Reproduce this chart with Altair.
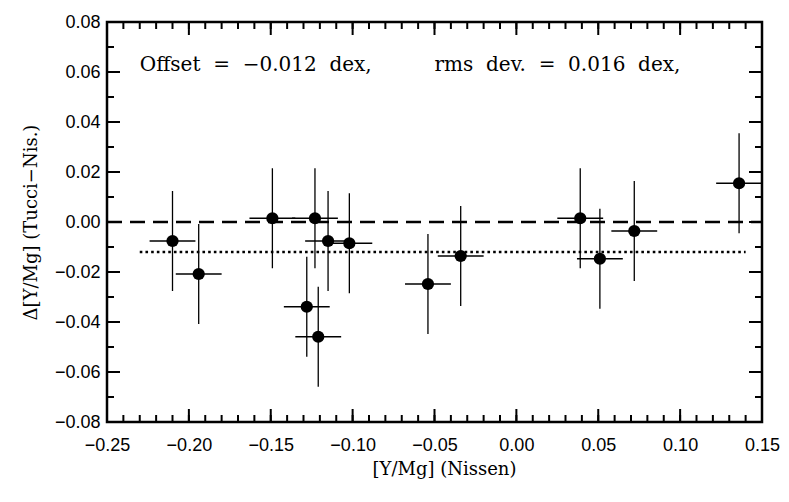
import altair as alt
import pandas as pd

# ---- data ----
x_nissen = [-0.210, -0.194, -0.149, -0.123, -0.115, -0.102, -0.128, -0.121,
            -0.054, -0.034, 0.039, 0.051, 0.072, 0.136]
dy_vals = [-0.0076, -0.0208, 0.0015, 0.0015, -0.0076, -0.0085, -0.0339, -0.0459,
           -0.0248, -0.0136, 0.0015, -0.0147, -0.0036, 0.0155]
x_err = [0.014] * 14
y_err = [0.020] * 14

offset_val = -0.012
offset_x_range = [-0.23, 0.14]

x_major = [-0.25, -0.20, -0.15, -0.10, -0.05, 0.00, 0.05, 0.10, 0.15]
x_minor = [round(-0.25 + 0.01 * i, 2) for i in range(41)]
y_major = [-0.08, -0.06, -0.04, -0.02, 0.00, 0.02, 0.04, 0.06, 0.08]
y_minor = [round(-0.08 + 0.01 * i, 2) for i in range(17)]

NB = "\u00a0"
ann_texts = ["Offset" + NB * 2 + "=" + NB * 2 + "\u22120.012" + NB * 2 + "dex,",
             "rms" + NB * 2 + "dev." + NB * 2 + "=" + NB * 2 + "0.016" + NB * 2 + "dex,"]
ann_x = [-0.23, -0.05]
ann_y = [0.0605, 0.0605]

W, H = 655, 400
XDOM = [-0.25, 0.15]
YDOM = [-0.08, 0.08]

df = pd.DataFrame({"x": x_nissen, "y": dy_vals, "xe": x_err, "ye": y_err})
df["xlo"] = df.x - df.xe
df["xhi"] = df.x + df.xe
df["ylo"] = df.y - df.ye
df["yhi"] = df.y + df.ye

xs = alt.Scale(domain=XDOM, nice=False, zero=False)
ys = alt.Scale(domain=YDOM, nice=False, zero=False)

xaxis = alt.Axis(values=x_major, format=".2f", ticks=False, tickSize=0, domain=False, grid=False,
                 labelFont="Liberation Sans", labelFontSize=18, labelColor="black",
                 labelPadding=14, labelFlush=False,
                 title="[Y/Mg] (Nissen)", titleFont="DejaVu Serif", titleFontSize=18,
                 titleFontWeight="normal", titleColor="black", titlePadding=6, titleX=337)
yaxis = alt.Axis(values=y_major, format=".2f", ticks=False, tickSize=0, domain=False, grid=False,
                 labelFont="Liberation Sans", labelFontSize=18, labelColor="black",
                 labelPadding=7, labelFlush=False,
                 title="\u0394[Y/Mg] (Tucci\u2212Nis.)", titleFont="DejaVu Serif", titleFontSize=18,
                 titleFontWeight="normal", titleColor="black", titlePadding=14)

base = alt.Chart(df)

xbars = base.mark_rule(color="black", strokeWidth=1.3).encode(
    x=alt.X("xlo:Q", scale=xs, axis=xaxis), x2="xhi:Q",
    y=alt.Y("y:Q", scale=ys, axis=yaxis))
ybars = base.mark_rule(color="black", strokeWidth=1.3).encode(
    x=alt.X("x:Q", scale=xs), y=alt.Y("ylo:Q", scale=ys), y2="yhi:Q")
pts = base.mark_circle(color="black", opacity=1, size=150).encode(
    x=alt.X("x:Q", scale=xs), y=alt.Y("y:Q", scale=ys))

zero_df = pd.DataFrame({"y": [0.0]})
zero_line = alt.Chart(zero_df).mark_rule(color="black", strokeWidth=2.3, strokeDash=[15, 8]).encode(
    y=alt.Y("y:Q", scale=ys), x=alt.value(0), x2=alt.value(W))

off_df = pd.DataFrame({"x": [offset_x_range[0]], "x2": [offset_x_range[1]], "y": [offset_val]})
off_line = alt.Chart(off_df).mark_rule(color="black", strokeWidth=2.3, strokeDash=[2.6, 3.1]).encode(
    x=alt.X("x:Q", scale=xs), x2="x2:Q", y=alt.Y("y:Q", scale=ys))

# inward ticks on all four sides
def xticks(vals, length):
    d = pd.DataFrame({"v": vals})
    bot = alt.Chart(d).mark_rule(color="black", strokeWidth=2).encode(
        x=alt.X("v:Q", scale=xs), y=alt.value(H), y2=alt.value(H - length))
    top = alt.Chart(d).mark_rule(color="black", strokeWidth=2).encode(
        x=alt.X("v:Q", scale=xs), y=alt.value(0), y2=alt.value(length))
    return [bot, top]

def yticks(vals, length):
    d = pd.DataFrame({"v": vals})
    left = alt.Chart(d).mark_rule(color="black", strokeWidth=2).encode(
        y=alt.Y("v:Q", scale=ys), x=alt.value(0), x2=alt.value(length))
    right = alt.Chart(d).mark_rule(color="black", strokeWidth=2).encode(
        y=alt.Y("v:Q", scale=ys), x=alt.value(W), x2=alt.value(W - length))
    return [left, right]

tick_layers = xticks(x_major, 13) + xticks(x_minor, 7) + yticks(y_major, 13) + yticks(y_minor, 7)

ann_df = pd.DataFrame({"t": ann_texts, "x": ann_x, "y": ann_y})
ann = alt.Chart(ann_df).mark_text(font="DejaVu Serif", fontSize=20, color="black",
                                  align="left", baseline="alphabetic").encode(
    x=alt.X("x:Q", scale=xs), y=alt.Y("y:Q", scale=ys), text="t:N")

chart = alt.layer(xbars, ybars, pts, zero_line, off_line, ann, *tick_layers).properties(
    width=W, height=H,
    autosize=alt.AutoSizeParams(type="none"),
    padding={"left": 107, "top": 22, "right": 27, "bottom": 80},
    background="white",
).configure_view(stroke="black", strokeWidth=2.5)

chart.save("out.html", embed_options={"renderer": "svg", "actions": False})
